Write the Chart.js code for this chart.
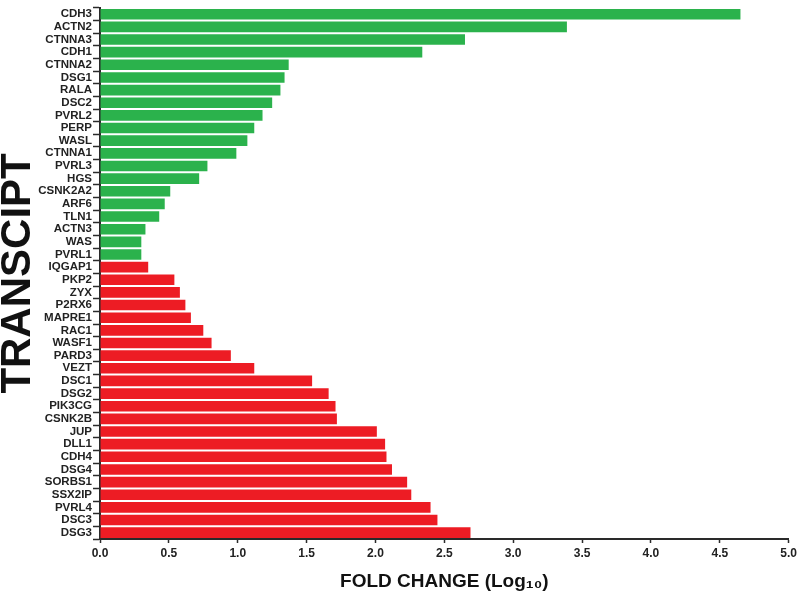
<!DOCTYPE html>
<html>
<head>
<meta charset="utf-8">
<script src="https://cdn.jsdelivr.net/npm/chart.js@4.4.0/dist/chart.umd.min.js"></script>
<style>
  html, body { margin: 0; padding: 0; background: #fff; }
  #wrap { width: 800px; height: 599px; }
</style>
</head>
<body>
<div id="wrap"><canvas id="foldChart"></canvas></div>
<script>
  // green group (top)
  const upGenes = ["CDH3", "ACTN2", "CTNNA3", "CDH1", "CTNNA2", "DSG1", "RALA", "DSC2", "PVRL2", "PERP",
    "WASL", "CTNNA1", "PVRL3", "HGS", "CSNK2A2", "ARF6", "TLN1", "ACTN3", "WAS", "PVRL1"];
  const upValues = [4.65, 3.39, 2.65, 2.34, 1.37, 1.34, 1.31, 1.25, 1.18, 1.12,
    1.07, 0.99, 0.78, 0.72, 0.51, 0.47, 0.43, 0.33, 0.30, 0.30];

  // red group (bottom)
  const downGenes = ["IQGAP1", "PKP2", "ZYX", "P2RX6", "MAPRE1", "RAC1", "WASF1", "PARD3", "VEZT", "DSC1",
    "DSG2", "PIK3CG", "CSNK2B", "JUP", "DLL1", "CDH4", "DSG4", "SORBS1", "SSX2IP", "PVRL4", "DSC3", "DSG3"];
  const downValues = [0.35, 0.54, 0.58, 0.62, 0.66, 0.75, 0.81, 0.95, 1.12, 1.54,
    1.66, 1.71, 1.72, 2.01, 2.07, 2.08, 2.12, 2.23, 2.26, 2.40, 2.45, 2.69];

  const xMin = 0, xMax = 5, xStep = 0.5;

  const GREEN = "#2bb24c";
  const RED = "#ed1c24";
  const AXIS = "#2a2a2a";

  const labels = upGenes.concat(downGenes);
  const values = upValues.concat(downValues);
  const colors = upGenes.map(() => GREEN).concat(downGenes.map(() => RED));

  new Chart(document.getElementById("foldChart"), {
    type: "bar",
    data: {
      labels: labels,
      datasets: [{
        data: values,
        backgroundColor: colors,
        borderWidth: 0,
        categoryPercentage: 1,
        barPercentage: 0.84
      }]
    },
    options: {
      indexAxis: "y",
      responsive: true,
      maintainAspectRatio: false,
      animation: false,
      layout: { padding: { top: 6, right: 11, bottom: 0, left: 0 } },
      plugins: { legend: { display: false }, tooltip: { enabled: false } },
      scales: {
        x: {
          min: xMin,
          max: xMax,
          afterFit: (s) => { s.height = 60; },
          border: { color: AXIS, width: 2 },
          grid: { drawOnChartArea: false, tickLength: 4, tickColor: AXIS, tickWidth: 1.5 },
          ticks: {
            stepSize: xStep,
            padding: 3,
            color: "#222",
            font: { family: "'Liberation Sans Narrow', 'Arial Narrow', 'Liberation Sans', sans-serif", weight: "bold", size: 12 },
            callback: (v) => Number(v).toFixed(1)
          },
          title: {
            display: true,
            text: "FOLD CHANGE (Log\u2081\u2080)",
            color: "#111",
            padding: { top: 0, bottom: 6 },
            font: { family: "'Liberation Sans Narrow', 'Arial Narrow', 'Liberation Sans', sans-serif", weight: "bold", size: 19 }
          }
        },
        y: {
          afterFit: (s) => { s.width = 100; },
          border: { color: AXIS, width: 2 },
          grid: { drawOnChartArea: false, tickLength: 7, tickColor: AXIS, tickWidth: 1.5 },
          ticks: {
            autoSkip: false,
            padding: 1,
            color: "#222",
            font: { family: "'Liberation Sans', Arial, sans-serif", weight: "bold", size: 11.5 }
          },
          title: {
            display: true,
            text: "TRANSCIPT",
            color: "#111",
            padding: 0,
            font: { family: "'Liberation Sans', Arial, sans-serif", weight: "bold", size: 42, lineHeight: 0.9 }
          }
        }
      }
    }
  });
</script>
</body>
</html>
